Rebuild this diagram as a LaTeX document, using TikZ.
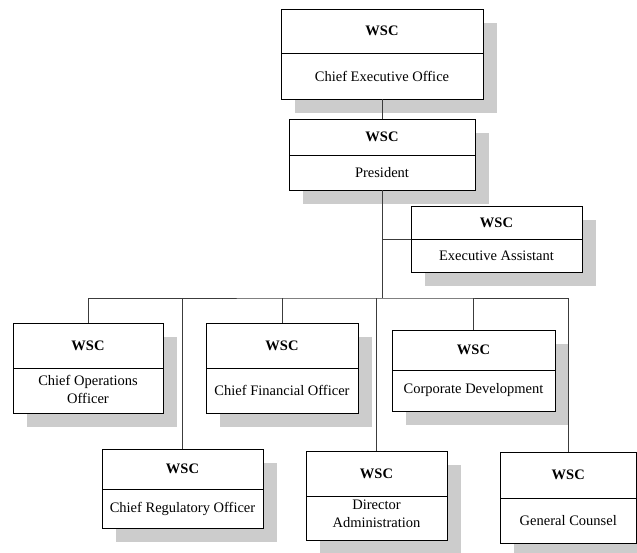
\documentclass[tikz,border=0pt]{standalone}
\usepackage{fontspec}
\setmainfont{Liberation Serif}
\usetikzlibrary{shadows}

\definecolor{shade}{RGB}{204,204,204}
\definecolor{linkgray}{RGB}{60,60,60}

\tikzset{
  unit/.style={draw=black, line width=1pt, fill=white, inner sep=0pt, outer sep=0pt,
    anchor=north west,
    drop shadow={shadow xshift=14pt, shadow yshift=-14pt, fill=shade, opacity=1, draw=none}},
  rule/.style={draw=black, line width=1pt},
  head/.style={font=\fontsize{14.5}{17}\selectfont\bfseries, inner sep=0pt},
  role/.style={font=\fontsize{14.5}{17.5}\selectfont, align=center, inner sep=0pt},
  link/.style={draw=linkgray, line width=0.9pt}
}

% #1 name, #2 left, #3 top, #4 right, #5 bottom, #6 divider, #7 role, #8 role shift
\newcommand\orgunit[8]{%
  \node[unit, minimum width={(#4-#2)*1pt}, minimum height={(#5-#3)*1pt}] (#1) at (#2,#3) {};
  \draw[rule] (#2,#6) -- (#4,#6);
  \node[head] (#1-head) at ({(#2+#4)/2},{(#3+#6)/2}) {WSC};
  \node[role] (#1-role) at ({(#2+#4)/2},{(#6+#5)/2+#8}) {#7};
}

\begin{document}
\begin{tikzpicture}[x=1pt,y=-1pt]
  \useasboundingbox[fill=white] (0,0) rectangle (637,552);

  % units
  \orgunit{ceo}{281}{9}{483}{99}{53}{Chief Executive Office}{0}
  \orgunit{pres}{289}{119}{475}{190}{155}{President}{0}
  \orgunit{ea}{411}{206}{582}{272}{239}{Executive Assistant}{0}
  \orgunit{coo}{13}{323}{163}{413}{368}{Chief Operations\\Officer}{-1}
  \orgunit{cfo}{206}{323}{358}{413}{368}{Chief Financial Officer}{0}
  \orgunit{cd}{392}{330}{555}{411}{370}{Corporate Development}{0}
  \orgunit{cro}{102}{449}{263}{528}{489}{Chief Regulatory Officer}{0}
  \orgunit{da}{306}{451}{447}{540}{496}{Director\\Administration}{-4}
  \orgunit{gc}{500}{452}{636.5}{543}{498}{General Counsel}{0}

  % reporting lines
  \coordinate (hub) at (382,298);
  \draw[link] (ceo.south) -- (pres.north);
  \draw[link] (pres.south) -- (hub);
  \draw[link] (pres.south |- ea.west) -- (ea.west);
  \draw[link] (coo.north) |- (hub) -| (gc.north);
  \draw[link] (cro.north) -- (cro.north |- hub);
  \draw[link] (cfo.north) -- (cfo.north |- hub);
  \draw[link] (da.north) -- (da.north |- hub);
  \draw[link] (cd.north) -- (cd.north |- hub);
\end{tikzpicture}
\end{document}
